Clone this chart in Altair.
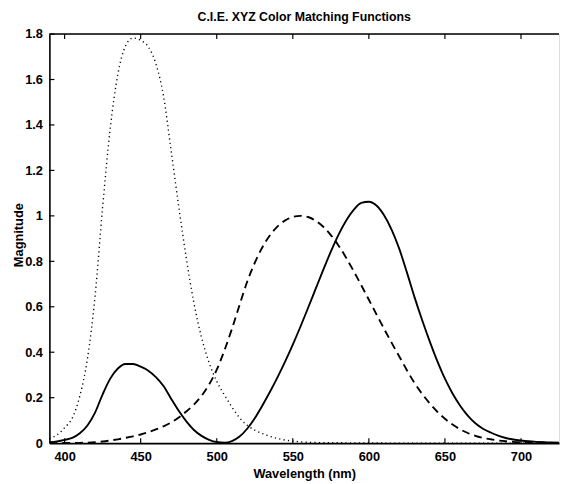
import altair as alt
import pandas as pd

# CIE 1931 colour matching functions (5 nm steps)
wavelength = list(range(390, 735, 5))
x_bar = [0.0042, 0.0077, 0.0143, 0.0232, 0.0435, 0.0776, 0.1344, 0.2148, 0.2839, 0.3285,
         0.3483, 0.3481, 0.3362, 0.3187, 0.2908, 0.2511, 0.1954, 0.1421, 0.0956, 0.0580,
         0.0320, 0.0147, 0.0049, 0.0024, 0.0093, 0.0291, 0.0633, 0.1096, 0.1655, 0.2258,
         0.2904, 0.3597, 0.4335, 0.5121, 0.5945, 0.6784, 0.7621, 0.8425, 0.9163, 0.9786,
         1.0263, 1.0567, 1.0622, 1.0456, 1.0026, 0.9384, 0.8545, 0.7514, 0.6424, 0.5419,
         0.4479, 0.3608, 0.2835, 0.2187, 0.1649, 0.1212, 0.0874, 0.0636, 0.0468, 0.0329,
         0.0227, 0.0158, 0.0114, 0.0081, 0.0058, 0.0041, 0.0029, 0.0020, 0.0014]
y_bar = [0.0001, 0.0002, 0.0004, 0.0006, 0.0012, 0.0022, 0.0040, 0.0073, 0.0116, 0.0168,
         0.0230, 0.0298, 0.0380, 0.0480, 0.0600, 0.0739, 0.0910, 0.1126, 0.1390, 0.1693,
         0.2080, 0.2586, 0.3230, 0.4073, 0.5030, 0.6082, 0.7100, 0.7932, 0.8620, 0.9149,
         0.9540, 0.9803, 0.9950, 1.0000, 0.9950, 0.9786, 0.9520, 0.9154, 0.8700, 0.8163,
         0.7570, 0.6949, 0.6310, 0.5668, 0.5030, 0.4412, 0.3810, 0.3210, 0.2650, 0.2170,
         0.1750, 0.1382, 0.1070, 0.0816, 0.0610, 0.0446, 0.0320, 0.0232, 0.0170, 0.0119,
         0.0082, 0.0057, 0.0041, 0.0029, 0.0021, 0.0015, 0.0010, 0.0007, 0.0005]
z_bar = [0.0201, 0.0362, 0.0679, 0.1102, 0.2074, 0.3713, 0.6456, 1.0391, 1.3856, 1.6230,
         1.7471, 1.7826, 1.7721, 1.7441, 1.6692, 1.5281, 1.2876, 1.0419, 0.8130, 0.6162,
         0.4652, 0.3533, 0.2720, 0.2123, 0.1582, 0.1117, 0.0783, 0.0573, 0.0422, 0.0298,
         0.0203, 0.0134, 0.0088, 0.0058, 0.0039, 0.0028, 0.0021, 0.0018, 0.0017, 0.0014,
         0.0011, 0.0010, 0.0008, 0.0006, 0.0003, 0.0002, 0.0002, 0.0001, 0.0001, 0.0000,
         0.0000, 0.0000, 0.0000, 0.0000, 0.0000, 0.0000, 0.0000, 0.0000, 0.0000, 0.0000,
         0.0000, 0.0000, 0.0000, 0.0000, 0.0000, 0.0000, 0.0000, 0.0000, 0.0000]

x_tick_values = [400, 450, 500, 550, 600, 650, 700]
y_tick_values = [0, 0.2, 0.4, 0.6, 0.8, 1, 1.2, 1.4, 1.6, 1.8]

X_MIN, X_MAX = 390, 725
Y_MIN, Y_MAX = 0, 1.8
TICK_X = 3.3     # inward tick length in nm
TICK_Y = 0.022   # inward tick length in magnitude units

FONT = "Liberation Sans"
PLOT_W, PLOT_H = 517, 415

df = pd.DataFrame({"wl": wavelength, "xb": x_bar, "yb": y_bar, "zb": z_bar})

xscale = alt.Scale(domain=[X_MIN, X_MAX], nice=False, zero=False)
yscale = alt.Scale(domain=[Y_MIN, Y_MAX], nice=False, zero=False)

xaxis = alt.Axis(values=x_tick_values, format="d", ticks=False, grid=False,
                 domain=True, domainColor="black", domainWidth=1.6,
                 labelFont=FONT, labelFontSize=13, labelFontWeight="bold",
                 labelColor="black", labelPadding=8, labelFlush=False,
                 title="Wavelength (nm)", titleFont=FONT, titleFontSize=13,
                 titleFontWeight="bold", titleColor="black", titlePadding=4)
yaxis = alt.Axis(values=y_tick_values, format="~g", ticks=False, grid=False,
                 domain=True, domainColor="black", domainWidth=1.6,
                 labelFont=FONT, labelFontSize=13, labelFontWeight="bold",
                 labelColor="black", labelPadding=7, labelFlush=False,
                 title="Magnitude", titleFont=FONT, titleFontSize=13,
                 titleFontWeight="bold", titleColor="black",
                 titleAngle=270, titleAlign="center", titleBaseline="middle",
                 titleX=-31, titleY=PLOT_H / 2 - 4)


def X(field):
    return alt.X(field, type="quantitative", scale=xscale, axis=xaxis)


def Y(field):
    return alt.Y(field, type="quantitative", scale=yscale, axis=yaxis)


base = alt.Chart(df)
line_x = base.mark_line(color="black", strokeWidth=1.9, interpolate="monotone",
                        clip=True).encode(x=X("wl"), y=Y("xb"))
line_y = base.mark_line(color="black", strokeWidth=1.9, strokeDash=[8, 5],
                        interpolate="monotone", clip=True).encode(x=X("wl"), y=Y("yb"))
line_z = base.mark_line(color="black", strokeWidth=1.4, strokeDash=[1.2, 3.3],
                        interpolate="monotone", clip=True).encode(x=X("wl"), y=Y("zb"))

# top frame line
frame = alt.Chart(pd.DataFrame({"v": [Y_MAX]})).transform_calculate(
    x0=str(X_MIN), x1=str(X_MAX)
).mark_rule(color="black", strokeWidth=1.6).encode(x=X("x0"), x2="x1:Q", y=Y("v"))

# inward ticks (MATLAB style)
xt = pd.DataFrame({"t": x_tick_values})
ticks_bottom = alt.Chart(xt).transform_calculate(
    y0="0", y1=str(TICK_Y)
).mark_rule(color="black", strokeWidth=1.2).encode(x=X("t"), y=Y("y0"), y2="y1:Q")
ticks_top = alt.Chart(xt).transform_calculate(
    y0=str(Y_MAX), y1=str(Y_MAX - TICK_Y)
).mark_rule(color="black", strokeWidth=1.2).encode(x=X("t"), y=Y("y0"), y2="y1:Q")
yt = pd.DataFrame({"t": y_tick_values[1:]})
ticks_left = alt.Chart(yt).transform_calculate(
    x0=str(X_MIN), x1=str(X_MIN + TICK_X)
).mark_rule(color="black", strokeWidth=1.2).encode(x=X("x0"), x2="x1:Q", y=Y("t"))

chart = alt.layer(
    line_z, line_y, line_x, frame, ticks_bottom, ticks_top, ticks_left
).properties(
    width=PLOT_W, height=PLOT_H,
    title=alt.TitleParams("C.I.E. XYZ Color Matching Functions", font=FONT,
                          fontSize=12.5, fontWeight="bold", color="black",
                          anchor="middle", offset=5),
    autosize=alt.AutoSizeParams(type="none"),
    padding={"left": 42, "top": 23, "right": 2, "bottom": 36},
).configure_view(stroke=None).configure(background="white")

chart.save("out.html", embed_options={"renderer": "svg", "actions": False})
